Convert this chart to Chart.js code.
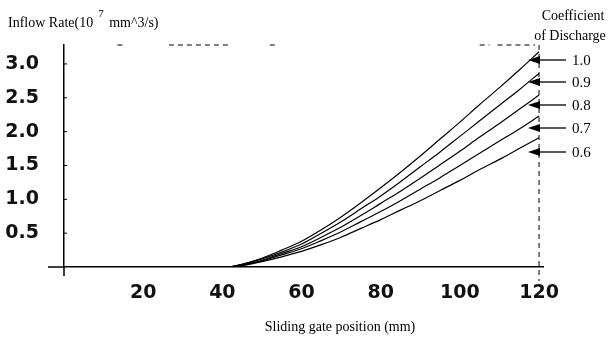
<!DOCTYPE html>
<html>
<head>
<meta charset="utf-8">
<script src="https://cdn.jsdelivr.net/npm/chart.js@4/dist/chart.umd.min.js"></script>
<style>
  body { margin: 0; background: #fff; }
  #wrap { width: 608px; height: 343px; }
</style>
</head>
<body>
<div id="wrap"><canvas id="gate"></canvas></div>
<script>
// gate position (mm) where the curves were read
const gatePos = [42, 45, 50, 55, 60, 65, 70, 75, 80, 85, 90, 95, 100, 105, 110, 115, 120]

// inflow rate (10^7 mm^3/s), one list per coefficient of discharge
const cd10 = [0, 0.04, 0.13, 0.25, 0.38, 0.55, 0.74, 0.95, 1.17, 1.40, 1.64, 1.89, 2.14, 2.40, 2.65, 2.91, 3.18]
const cd09 = [0, 0.04, 0.12, 0.22, 0.34, 0.50, 0.67, 0.86, 1.05, 1.26, 1.48, 1.70, 1.93, 2.16, 2.39, 2.62, 2.86]
const cd08 = [0, 0.03, 0.10, 0.20, 0.30, 0.44, 0.59, 0.76, 0.94, 1.12, 1.31, 1.51, 1.71, 1.92, 2.12, 2.33, 2.54]
const cd07 = [0, 0.03, 0.09, 0.18, 0.27, 0.39, 0.52, 0.67, 0.82, 0.98, 1.15, 1.32, 1.50, 1.68, 1.86, 2.04, 2.23]
const cd06 = [0, 0.02, 0.08, 0.15, 0.23, 0.33, 0.44, 0.57, 0.70, 0.84, 0.98, 1.13, 1.28, 1.44, 1.59, 1.75, 1.91]

const coefLabels = ['1.0', '0.9', '0.8', '0.7', '0.6']
const xTickValues = [20, 40, 60, 80, 100, 120]
const yTickValues = [0.5, 1.0, 1.5, 2.0, 2.5, 3.0]

const series = [cd10, cd09, cd08, cd07, cd06]

const serif = '"Liberation Serif", "DejaVu Serif", serif'

// axis crossing, dashed frame bits, titles and the arrow legend
const gateDecor = {
  id: 'gateDecor',
  afterDraw(chart) {
    const ctx = chart.ctx
    const area = chart.chartArea
    const xs = chart.scales.x
    const ys = chart.scales.y
    ctx.save()
    ctx.strokeStyle = '#000'
    ctx.fillStyle = '#000'

    // axes run a little past the origin
    ctx.lineWidth = 1.5
    ctx.beginPath()
    ctx.moveTo(area.left - 16, area.bottom)
    ctx.lineTo(area.left, area.bottom)
    ctx.moveTo(area.left, area.bottom)
    ctx.lineTo(area.left, area.bottom + 9)
    ctx.stroke()

    // small ticks on the inside of the y axis
    ctx.lineWidth = 1
    ctx.beginPath()
    yTickValues.forEach(v => {
      const py = ys.getPixelForValue(v)
      ctx.moveTo(area.left, py)
      ctx.lineTo(area.left + 3, py)
    })
    ctx.stroke()

    // dashed line at the end of travel
    const x120 = xs.getPixelForValue(120)
    ctx.setLineDash([5, 4])
    ctx.beginPath()
    ctx.moveTo(x120, area.top)
    ctx.lineTo(x120, area.bottom + 14)
    ctx.stroke()

    // broken top frame
    ctx.beginPath()
    ;[[13.5, 15], [26.5, 42], [52, 54], [105, 107.5], [109.5, 119]].forEach(seg => {
      ctx.moveTo(xs.getPixelForValue(seg[0]), area.top)
      ctx.lineTo(xs.getPixelForValue(seg[1]), area.top)
    })
    ctx.stroke()
    ctx.setLineDash([])

    // y title
    ctx.textBaseline = 'alphabetic'
    ctx.textAlign = 'left'
    ctx.font = '14px ' + serif
    const t1 = 'Inflow Rate(10'
    ctx.fillText(t1, 8, 27)
    const w1 = ctx.measureText(t1).width
    ctx.font = '11px ' + serif
    ctx.fillText('7', 8 + w1 + 5, 17)
    ctx.font = '14px ' + serif
    ctx.fillText('mm^3/s)', 8 + w1 + 16, 27)

    // x title
    ctx.textAlign = 'center'
    ctx.fillText('Sliding gate position (mm)', 340, 331)

    // legend heading
    ctx.font = '14px ' + serif
    ctx.fillText('Coefficient', 573, 20)
    ctx.fillText('of Discharge', 570, 40)

    // arrow legend
    const rowY = [60, 82, 105, 128, 152]
    coefLabels.forEach((lab, i) => {
      const y = rowY[i]
      ctx.lineWidth = 1.3
      ctx.beginPath()
      ctx.moveTo(566, y)
      ctx.lineTo(536, y)
      ctx.stroke()
      ctx.beginPath()
      ctx.moveTo(528, y)
      ctx.lineTo(540, y - 4)
      ctx.lineTo(540, y + 4)
      ctx.closePath()
      ctx.fill()
      ctx.textAlign = 'left'
      ctx.textBaseline = 'middle'
      ctx.font = '15px ' + serif
      ctx.fillText(lab, 572, y + 1)
    })
    ctx.restore()
  }
}

const gateChart = new Chart(document.getElementById('gate'), {
  type: 'line',
  data: {
    datasets: series.map((vals, i) => ({
      label: coefLabels[i],
      data: gatePos.map((p, k) => ({ x: p, y: vals[k] })),
      borderColor: '#000',
      borderWidth: 1.2,
      pointRadius: 0,
      cubicInterpolationMode: 'monotone',
      fill: false
    }))
  },
  options: {
    responsive: true,
    maintainAspectRatio: false,
    animation: false,
    layout: { padding: { top: 45, right: 65, left: 0, bottom: 0 } },
    plugins: {
      legend: { display: false },
      tooltip: { enabled: false }
    },
    scales: {
      x: {
        type: 'linear',
        min: 0,
        max: 121,
        afterFit: s => { s.height = 76 },
        afterBuildTicks: s => { s.ticks = xTickValues.map(v => ({ value: v })) },
        grid: { display: false },
        border: { display: true, color: '#000', width: 1.5 },
        ticks: {
          color: '#111',
          padding: 7,
          font: { family: '"DejaVu Sans"', weight: 'bold', size: 19 }
        }
      },
      y: {
        min: 0,
        max: 3.28,
        afterFit: s => { s.width = 64 },
        afterBuildTicks: s => { s.ticks = yTickValues.map(v => ({ value: v })) },
        grid: { display: false },
        border: { display: true, color: '#000', width: 1.5 },
        ticks: {
          color: '#111',
          padding: 17,
          callback: v => v.toFixed(1),
          font: { family: '"DejaVu Sans"', weight: 'bold', size: 19 }
        }
      }
    }
  },
  plugins: [gateDecor]
})
</script>
</body>
</html>
